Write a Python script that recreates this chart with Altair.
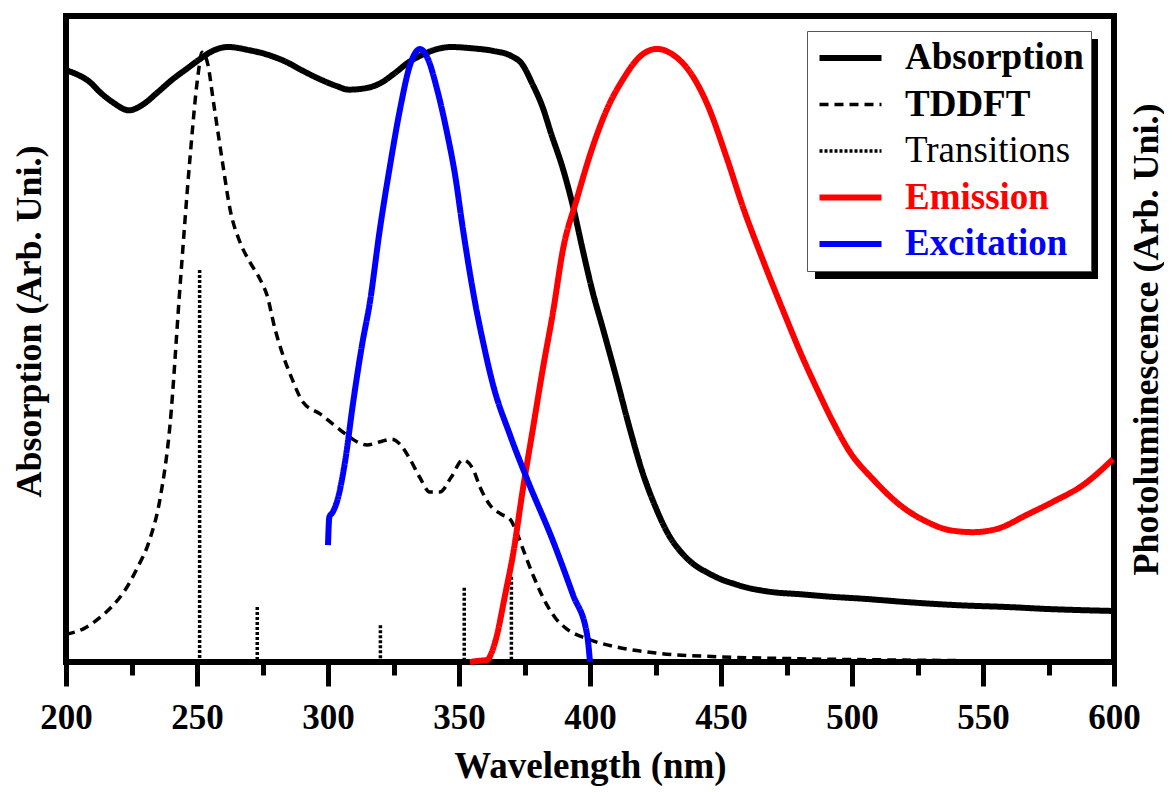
import altair as alt
import pandas as pd

FONT = "Liberation Serif, Times New Roman, Times, DejaVu Serif, serif"

series_names = ["Absorption", "TDDFT", "Transitions", "Emission", "Excitation"]
series_colors = ["black", "black", "black", "red", "blue"]
series_dash = [[1, 0], [9, 6], [3, 2], [1, 0], [1, 0]]

abs_nm = [200, 204, 209, 213, 218, 224, 229, 235, 241, 246, 251, 256, 262, 270, 277,
          284, 290, 297, 303, 308, 314, 320, 325, 331, 336, 341, 347, 355, 363, 370,
          374, 378, 382, 385, 390, 394, 397, 401, 405, 410, 415, 420, 425, 430, 435,
          440, 445, 450, 455, 460, 465, 470, 480, 492, 504, 520, 540, 560, 575, 590, 600]
abs_val = [91.6, 91.0, 89.8, 88.2, 86.6, 85.4, 86.2, 88.2, 90.3, 91.8, 93.3, 94.6, 95.2, 94.7, 94.0,
           92.9, 91.6, 90.2, 89.2, 88.6, 88.8, 89.6, 91.0, 92.9, 94.0, 94.8, 95.2, 95.0, 94.6, 93.8,
           92.6, 89.5, 85.8, 82.0, 75.9, 69.7, 64.2, 57.3, 51.5, 44.1, 36.4, 29.4, 24.0, 19.7, 16.9,
           15.0, 13.8, 12.8, 12.1, 11.5, 11.1, 10.8, 10.5, 10.1, 9.8, 9.3, 8.8, 8.5, 8.2, 8.0, 7.9]

td_nm = [200, 207, 213, 218, 222, 227, 232, 236, 239.7, 243.5, 247.3, 250.4,
         251.9, 254.2, 256.1, 258, 259.9, 262.6, 266.4, 270.2, 274, 276.7, 279.8, 282, 286, 290.5, 297,
         302, 307.3, 311, 314.9, 320, 324.4, 327.5, 331.3, 335, 338.9, 342.7, 347, 351.5, 355.3, 358,
         361.8, 366, 369.5, 372, 374.4, 378.2, 383.6, 387, 391.2, 398.9, 410.3, 425, 450, 480, 520,
         560, 600]
td_val = [4.3, 5.2, 6.9, 8.8, 10.8, 14.4, 19.0, 25.5, 36.7, 58.0, 77.9, 90.9,
          94.4, 92.4, 87.2, 82.0, 76.9, 70.1, 65.0, 61.9, 59.3, 56.8, 51.5, 48.5, 44.1, 40.2, 38.4,
          36.8, 35.1, 34.1, 33.6, 34.1, 34.5, 33.7, 31.4, 28.6, 26.3, 26.3, 28.6, 31.3, 29.9, 27.1,
          24.3, 22.9, 22.1, 20.1, 17.5, 13.5, 8.8, 6.7, 5.1, 3.6, 2.3, 1.4, 0.8, 0.5, 0.3,
          0.15, 0.1]

tr_nm = [251, 273, 320, 352, 370]
tr_val = [60.7, 8.5, 5.7, 11.5, 13.2]

ex_nm = [300.0, 300.5, 301.8, 303.4, 306.5, 309.6, 313, 316, 319.8, 323.7, 327.5, 331.3, 335.1,
         338.2, 341.6, 345.4, 348.5, 351.5, 356.1, 359.2, 363, 369.5, 376, 386, 393.5, 398.9, 400]
ex_val = [18.1, 22.4, 23.2, 24.8, 31.0, 40.2, 49.1, 55.7, 67.0, 76.9, 85.6, 92.4, 94.9,
          93.3, 88.7, 82.0, 75.4, 67.0, 55.7, 49.5, 42.9, 35.1, 28.3, 18.6, 10.4, 4.2, 0.0]

em_nm = [354.2, 358, 360.7, 362.5, 364.5, 367.6, 370.6, 374.4, 378.2, 382, 385.9, 389.7, 395,
         400, 406.5, 412.6, 419, 425.6, 431.7, 438.2, 444.7, 452.3, 458.4, 466, 475.2, 480.2,
         486.6, 492.7, 499.2, 508, 518.3, 528.6, 537.4, 546.2, 555.3, 566.8, 576.7, 588.2, 599.6]
em_val = [0.0, 0.2, 0.3, 1.5, 4.2, 10.4, 16.6, 26.8, 36.1, 45.4, 54.2, 63.9, 71.7,
          78.5, 85.6, 90.2, 93.7, 94.9, 94.0, 91.3, 86.4, 77.9, 70.4, 62.2, 52.9, 48.0,
          42.3, 37.2, 32.5, 28.3, 24.3, 21.7, 20.4, 20.1, 20.6, 22.8, 24.8, 27.4, 31.4]


def frame(name, nm, val):
    return pd.DataFrame({"series": name, "nm": nm, "v": val})


xscale = alt.Scale(domain=[200, 600], nice=False, zero=False)
yscale = alt.Scale(domain=[0, 100], nice=False, zero=False)

xaxis = alt.Axis(
    values=list(range(200, 601, 25)),
    labelExpr="datum.value % 50 === 0 ? datum.label : ''",
    tickSize={"condition": {"test": "datum.value % 50 === 0", "value": 24}, "value": 13},
    tickWidth=5, tickColor="black", domain=False, grid=False, labelFlush=False,
    labelFont=FONT, labelFontSize=35, labelFontWeight="bold", labelColor="black",
    labelPadding=14, title="Wavelength (nm)", titleFont=FONT, titleFontSize=37,
    titleFontWeight="bold", titleColor="black", titlePadding=13,
)

legend = alt.Legend(
    title=None, orient="none", legendX=741, legendY=15, direction="vertical",
    fillColor="white", strokeColor="#555555", padding=7,
    symbolType="M-1.55,0H1.55", symbolSize=1600, clipHeight=40, rowPadding=6.5,
    symbolOffset=18, labelOffset=36, labelFont=FONT, labelFontSize=37, labelLimit=400,
    labelFontWeight={"expr": "datum.label === 'Transitions' ? 'normal' : 'bold'"},
    labelColor={"expr": "datum.label === 'Emission' ? 'red' : (datum.label === 'Excitation' ? 'blue' : 'black')"},
    symbolStrokeWidth={"expr": "(datum.label === 'TDDFT' || datum.label === 'Transitions') ? 3.5 : 6"},
)

color = alt.Color("series:N", scale=alt.Scale(domain=series_names, range=series_colors), legend=legend)
dash = alt.StrokeDash("series:N", scale=alt.Scale(domain=series_names, range=series_dash), legend=legend)

left_axis = alt.Axis(orient="left", title="Absorption (Arb. Uni.)", ticks=False, labels=False,
                     domain=False, grid=False, titleFont=FONT, titleFontSize=36,
                     titleFontWeight="bold", titleColor="black", titlePadding=18, titleY=305)
right_axis = alt.Axis(orient="right", title="Photoluminescence (Arb. Uni.)", ticks=False,
                      labels=False, domain=False, grid=False, titleFont=FONT, titleFontSize=36,
                      titleFontWeight="bold", titleColor="black", titlePadding=15,
                      titleAngle=270, titleBaseline="top")


def line(df, width, axis):
    return alt.Chart(df).mark_line(strokeWidth=width, interpolate="monotone").encode(
        x=alt.X("nm:Q", scale=xscale, axis=xaxis),
        y=alt.Y("v:Q", scale=yscale, axis=axis),
        color=color, strokeDash=dash,
    )


tddft = line(frame("TDDFT", td_nm, td_val), 3.5, left_axis)
absorb = line(frame("Absorption", abs_nm, abs_val), 6, left_axis)
trans = alt.Chart(frame("Transitions", tr_nm, tr_val)).mark_rule(strokeWidth=3.5).encode(
    x=alt.X("nm:Q", scale=xscale, axis=xaxis),
    y=alt.Y("v:Q", scale=yscale, axis=left_axis),
    y2=alt.datum(0),
    color=color, strokeDash=dash,
)
emis = line(frame("Emission", em_nm, em_val), 6, right_axis)
excit = line(frame("Excitation", ex_nm, ex_val), 6, right_axis)

shadow = alt.Chart(pd.DataFrame({"s": [0]})).mark_rect(color="black").encode(
    x=alt.value(749), x2=alt.value(1032), y=alt.value(23), y2=alt.value(263)
)

left = alt.layer(tddft, trans, absorb)
right = alt.layer(emis, excit, shadow)

chart = alt.layer(left, right).resolve_scale(y="independent").properties(
    width=1048, height=646,
    padding={"left": 58, "top": 8, "right": 50, "bottom": 124},
    autosize=alt.AutoSizeParams(type="none"),
    background="white",
).configure_view(stroke="black", strokeWidth=6)

chart.save("out.html", embed_options={"renderer": "svg", "actions": False})
